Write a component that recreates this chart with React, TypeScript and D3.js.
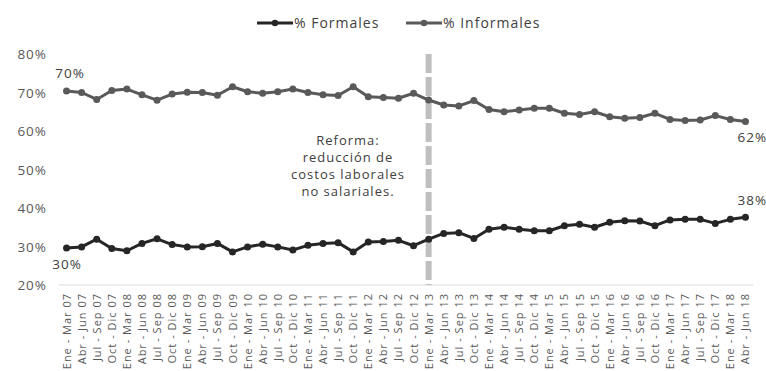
import React from "react";
import * as d3 from "d3";

const years = ["07", "08", "09", "10", "11", "12", "13", "14", "15", "16", "17", "18"];
const quarters = ["Ene - Mar", "Abr - Jun", "Jul - Sep", "Oct - Dic"];
const categories: string[] = [];
years.forEach((y, yi) => quarters.forEach((q, qi) => { if (!(yi === 11 && qi > 1)) categories.push(`${q} ${y}`); }));

const formales = [29.6, 29.9, 31.9, 29.5, 28.9, 30.8, 32.0, 30.5, 29.9, 29.95, 30.8, 28.6, 29.9, 30.6, 29.9, 29.1, 30.3, 30.8, 31.0, 28.6, 31.2, 31.3, 31.6, 30.2, 31.9, 33.4, 33.6, 32.1, 34.5, 35.0, 34.5, 34.1, 34.1, 35.4, 35.8, 35.0, 36.3, 36.7, 36.6, 35.4, 36.9, 37.1, 37.05, 36.0, 37.05, 37.6];
const informales = [70.4, 70.0, 68.2, 70.5, 70.9, 69.4, 68.0, 69.6, 70.05, 70.0, 69.3, 71.5, 70.2, 69.8, 70.2, 70.9, 70.0, 69.4, 69.2, 71.5, 68.9, 68.7, 68.5, 69.8, 68.05, 66.75, 66.5, 67.9, 65.6, 65.0, 65.45, 65.9, 65.9, 64.6, 64.3, 65.0, 63.7, 63.3, 63.5, 64.6, 63.0, 62.7, 62.85, 64.0, 63.0, 62.45];
const yTicks = [20, 30, 40, 50, 60, 70, 80];
const reformaIndex = 24;
const annotation = ["Reforma:", "reducción de", "costos laborales", "no salariales."];

const W = 766, H = 371;
const FONT = "'Open Sans', sans-serif";

export default function App() {
  const x = d3.scaleBand<string>().domain(categories).range([59, 753]);
  const cx = (c: string) => (x(c) as number) + x.bandwidth() / 2;
  const y = d3.scaleLinear().domain([20, 80]).range([285, 54]);
  const line = d3.line<number>().x((_, i) => cx(categories[i])).y(d => y(d));
  const series = [
    { name: "% Formales", data: formales, color: "#262626", lx: 257 },
    { name: "% Informales", data: informales, color: "#595959", lx: 406 },
  ];
  const last = categories.length - 1;
  const lbl = { fontFamily: FONT, fontSize: 13.5, fill: "#404040", letterSpacing: 1 } as any;
  return (
    <svg width={W} height={H} style={{ position: "absolute", left: 0, top: 0, background: "#fff" }}>
      {/* legend */}
      {series.map(s => (
        <g key={s.name}>
          <line x1={s.lx} x2={s.lx + 36} y1={23} y2={23} stroke={s.color} strokeWidth={3} />
          <circle cx={s.lx + 18} cy={23} r={3.2} fill={s.color} />
          <text x={s.lx + 37} y={28} fontFamily={FONT} fontSize={14} letterSpacing={1} fill="#404040">{s.name}</text>
        </g>
      ))}
      {/* y ticks */}
      {yTicks.map(t => (
        <text key={t} x={47} y={y(t) + 5} textAnchor="end" fontFamily={FONT} fontSize={13.5} letterSpacing={1} fill="#595959">{t}%</text>
      ))}
      {/* baseline */}
      <line x1={59} x2={753} y1={285} y2={285} stroke="#d9d9d9" strokeWidth={1} />
      {/* x labels */}
      {categories.map(c => (
        <text key={c} transform={`translate(${cx(c) + 4},${293}) rotate(-90)`} textAnchor="end" fontFamily={FONT} fontSize={11} letterSpacing={1} fill="#595959">{c}</text>
      ))}
      {/* reform line */}
      <line x1={cx(categories[reformaIndex])} x2={cx(categories[reformaIndex])} y1={54} y2={285} stroke="#bfbfbf" strokeWidth={6} strokeDasharray="19,4" />
      {annotation.map((t, i) => (
        <text key={t} x={348} y={145 + i * 16.9} textAnchor="middle" fontFamily={FONT} fontSize={13} letterSpacing={1} fill="#404040">{t}</text>
      ))}
      {/* series */}
      {series.map(s => (
        <g key={s.name}>
          <path d={line(s.data) as string} fill="none" stroke={s.color} strokeWidth={3} strokeLinejoin="round" />
          {s.data.map((v, i) => (
            <circle key={i} cx={cx(categories[i])} cy={y(v)} r={3.5} fill={s.color} />
          ))}
        </g>
      ))}
      {/* data labels */}
      <text x={70} y={y(informales[0]) - 13} textAnchor="middle" {...lbl}>{Math.round(informales[0])}%</text>
      <text x={67} y={y(formales[0]) + 21} textAnchor="middle" {...lbl}>{Math.round(formales[0])}%</text>
      <text x={cx(categories[last]) - 8} y={y(informales[last]) + 20} {...lbl}>{Math.round(informales[last])}%</text>
      <text x={cx(categories[last]) - 8} y={y(formales[last]) - 12} {...lbl}>{Math.round(formales[last])}%</text>
    </svg>
  );
}
